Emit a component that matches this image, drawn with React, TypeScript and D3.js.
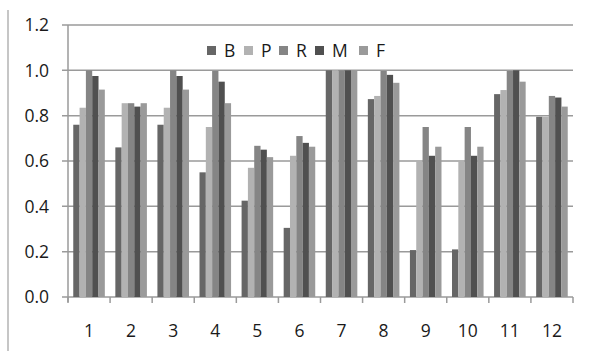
import React from "react";
import * as d3 from "d3";

const categories = ["1", "2", "3", "4", "5", "6", "7", "8", "9", "10", "11", "12"];
const seriesNames = ["B", "P", "R", "M", "F"];
const B = [0.76, 0.66, 0.76, 0.55, 0.425, 0.305, 1.0, 0.873, 0.207, 0.21, 0.895, 0.795];
const P = [0.835, 0.855, 0.835, 0.75, 0.57, 0.623, 1.0, 0.887, 0.597, 0.597, 0.913, 0.795];
const R = [1.0, 0.855, 1.0, 0.997, 0.667, 0.71, 1.0, 0.997, 0.75, 0.75, 0.997, 0.887];
const M = [0.975, 0.84, 0.975, 0.95, 0.65, 0.68, 1.0, 0.98, 0.623, 0.623, 1.0, 0.88];
const F = [0.915, 0.855, 0.915, 0.855, 0.617, 0.663, 1.0, 0.945, 0.663, 0.663, 0.95, 0.84];
const yTicks = [0, 0.2, 0.4, 0.6, 0.8, 1.0, 1.2];
const colors = ["#666666", "#b2b2b2", "#858585", "#505050", "#9a9a9a"];

export default function App() {
  const W = 594, H = 351;
  const left = 68, right = 573, top = 25, bottom = 297;
  const x = d3.scaleBand<string>().domain(categories).range([left, right]).paddingInner(0).paddingOuter(0);
  const y = d3.scaleLinear().domain([0, 1.2]).range([bottom, top]);
  const inner = d3.scaleBand<string>().domain(seriesNames).range([0, x.bandwidth() * 0.75]);
  const offset = x.bandwidth() * 0.125;
  const data = [B, P, R, M, F];
  const font = "'Open Sans', sans-serif";
  const fs = 17.5;
  const legendX = [207, 244, 279, 315, 359];
  return (
    <svg width={W} height={H} style={{ position: "absolute", left: 0, top: 0, background: "#fff" }}>
      <line x1={8} x2={8} y1={10} y2={351} stroke="#a0a0a0" strokeWidth={1.2} />
      {yTicks.map((t) => (
        <g key={t}>
          <line x1={62} x2={right} y1={y(t)} y2={y(t)} stroke="#9a9a9a" strokeWidth={1.5} />
          <text x={49} y={y(t) + 6.2} textAnchor="end" fontSize={fs} fill="#1a1a1a" fontFamily={font}>
            {t.toFixed(1)}
          </text>
        </g>
      ))}
      {categories.map((c, i) =>
        data.map((s, j) => (
          <rect
            key={c + j}
            x={(x(c) as number) + offset + (inner(seriesNames[j]) as number)}
            y={y(s[i])}
            width={inner.bandwidth()}
            height={bottom - y(s[i])}
            fill={colors[j]}
          />
        ))
      )}
      <line x1={left} x2={left} y1={top} y2={bottom + 5} stroke="#9a9a9a" strokeWidth={1.5} />
      {[...categories.map((c) => x(c) as number), right].map((p, i) => (
        <line key={i} x1={p} x2={p} y1={bottom} y2={bottom + 6} stroke="#9a9a9a" strokeWidth={1.5} />
      ))}
      {categories.map((c) => (
        <text key={c} x={(x(c) as number) + x.bandwidth() / 2} y={337} textAnchor="middle" fontSize={fs} fill="#1a1a1a" fontFamily={font}>
          {c}
        </text>
      ))}
      {seriesNames.map((n, j) => (
        <g key={n}>
          <rect x={legendX[j]} y={46} width={9} height={9} fill={colors[j]} />
          <text x={legendX[j] + 17} y={57} fontSize={fs} fill="#1a1a1a" fontFamily={font}>
            {n}
          </text>
        </g>
      ))}
    </svg>
  );
}
